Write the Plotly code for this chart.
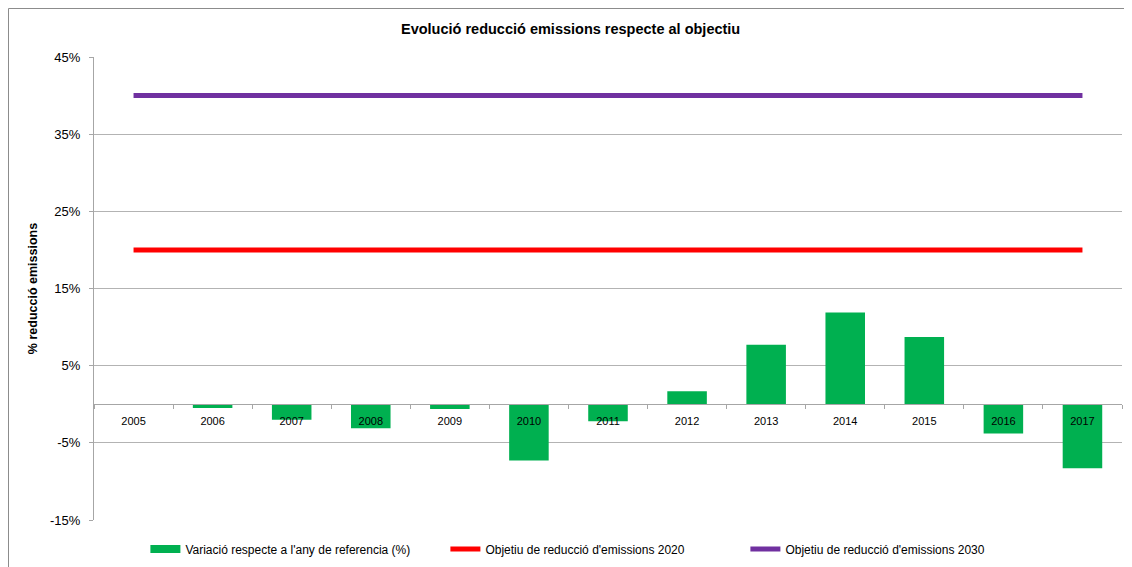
import plotly.graph_objects as go

years = ["2005", "2006", "2007", "2008", "2009", "2010", "2011", "2012",
         "2013", "2014", "2015", "2016", "2017"]
variacio = [0.0, -0.5, -2.0, -3.1, -0.6, -7.3, -2.2, 1.7, 7.7, 11.9, 8.7, -3.8, -8.3]
objectiu_2020 = [20.0] * len(years)
objectiu_2030 = [40.0] * len(years)
y_ticks = [-15, -5, 5, 15, 25, 35, 45]
y_tick_labels = ["-15%", "-5%", "5%", "15%", "25%", "35%", "45%"]

name_bar = "Variació respecte a l'any de referencia (%)"
name_2020 = "Objetiu de reducció d'emissions 2020"
name_2030 = "Objetiu de reducció d'emissions 2030"

GREEN, RED, PURPLE = "#00B050", "#FF0000", "#7030A0"

fig = go.Figure()
fig.add_trace(go.Bar(x=years, y=variacio, name=name_bar, legendgroup="bar",
                     showlegend=False,
                     marker=dict(color=GREEN, line=dict(width=0))))
# legend proxy: wide green rectangle like the original legend key
fig.add_trace(go.Scatter(x=[None], y=[None], name=name_bar, legendgroup="bar",
                         mode="lines", line=dict(color=GREEN, width=8)))
fig.add_trace(go.Scatter(x=years, y=objectiu_2020, name=name_2020, mode="lines",
                         line=dict(color=RED, width=5)))
fig.add_trace(go.Scatter(x=years, y=objectiu_2030, name=name_2030, mode="lines",
                         line=dict(color=PURPLE, width=5)))

ymin, ymax = -15, 45
zero_pos = (0 - ymin) / (ymax - ymin)

# page body has an 8px margin, so the figure is laid out 8px up/left
L, T, B, R = 86, 49, 55, 18
plot_w = 1132 - L - R
plot_h = 567 - T - B

fig.update_layout(
    width=1132, height=567,
    margin=dict(l=L, r=R, t=T, b=B, autoexpand=False),
    paper_bgcolor="white", plot_bgcolor="white",
    bargap=0.5,
    font=dict(family="Liberation Sans", size=11, color="#000000"),
    title=dict(text="<b>Evolució reducció emissions respecte al objectiu</b>",
               x=0.497, xanchor="center", y=1 - 21 / 567, yanchor="middle",
               font=dict(family="Liberation Sans", size=14.5, color="#000000")),
    xaxis=dict(type="category", anchor="free", position=zero_pos, automargin=False,
               showline=True, linecolor="#a6a6a6", linewidth=1.3,
               ticks="outside", tickson="boundaries", ticklen=4, tickcolor="#a6a6a6",
               ticklabelstandoff=6,
               showgrid=False, tickfont=dict(size=11)),
    yaxis=dict(range=[ymin, ymax], tickvals=y_ticks, ticktext=y_tick_labels,
               automargin=False,
               showgrid=True, gridcolor="#b3b3b3", gridwidth=1.3,
               showline=True, linecolor="#a6a6a6", linewidth=1.3,
               ticks="outside", ticklen=4, tickcolor="#a6a6a6",
               ticklabelstandoff=6,
               zeroline=False, tickfont=dict(size=13),
               title=dict(text="<b>% reducció emissions</b>", standoff=9,
                          font=dict(size=12.5))),
    legend=dict(orientation="h", x=0.05, xanchor="left",
                y=-29 / plot_h, yanchor="middle", entrywidth=255,
                font=dict(size=12), itemwidth=30, traceorder="normal"),
    showlegend=True,
)

# outer chart frame
fig.add_shape(type="rect", xref="paper", yref="paper",
              x0=(0.5 - L) / plot_w, x1=1.2, y0=-0.3, y1=(plot_h + T - 0.5) / plot_h,
              line=dict(color="#8c8c8c", width=1), layer="below")

fig.write_html("out.html")
